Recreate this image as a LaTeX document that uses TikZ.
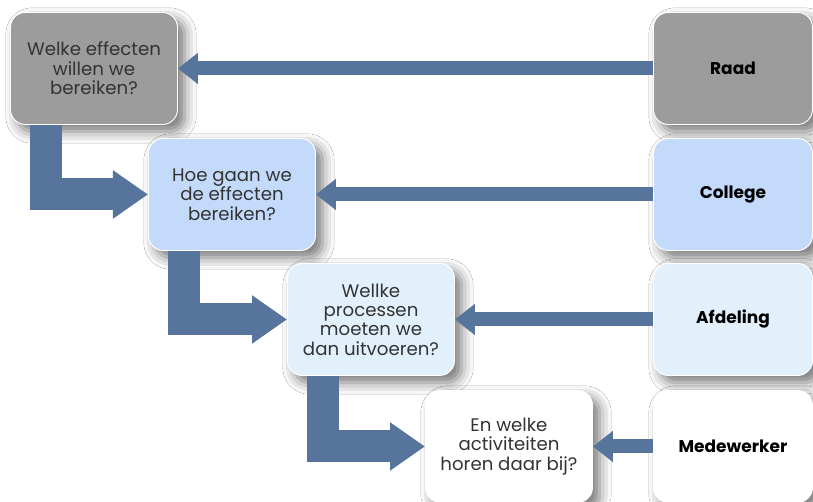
\documentclass[tikz,border=0pt]{standalone}
\usepackage{fontspec}
\setmainfont{Poppins}
\usepackage{tikz}
\usetikzlibrary{arrows.meta, shadows.blur}
\definecolor{graybox}{HTML}{9C9C9C}
\definecolor{bluebox}{HTML}{C3DAFA}
\definecolor{paleblue}{HTML}{E2F0FB}
\definecolor{steel}{HTML}{56749C}
\definecolor{textgray}{HTML}{333333}

\begin{document}
\begin{tikzpicture}[x=0.03cm, y=-0.03cm]
    \tikzstyle{box}=[draw=white, thick, rounded corners=0.45cm, minimum width=5.01cm, minimum height=3.36cm, inner sep=0pt, anchor=north west, align=center, font=\fontsize{15.5}{16.5}\selectfont, text=textgray, blur shadow={shadow xshift=6pt, shadow yshift=-6pt, shadow blur radius=10pt, shadow opacity=55}];
    \tikzstyle{level}=[box, minimum width=4.77cm, font=\fontsize{14.5}{16}\selectfont\bfseries, text=black];
    \tikzstyle{hor}=[draw=steel, line width=0.42cm, -{Triangle[length=0.6cm, width=0.9cm]}];
    \tikzstyle{bent}=[draw=steel, line width=0.96cm, line join=miter, -{Triangle[length=1.05cm, width=1.38cm]}];

    \useasboundingbox[fill=white] (0,0) rectangle (813,501);

    \node[box, fill=graybox] (q1) at (10,12) {Welke effecten\\willen we\\bereiken?};
    \node[box, fill=bluebox] (q2) at (148,138) {Hoe gaan we\\de effecten\\bereiken?};
    \node[box, fill=paleblue] (q3) at (287,263) {Wellke\\processen\\moeten we\\dan uitvoeren?};
    \node[box, fill=white] (q4) at (425,390) {En welke\\activiteiten\\horen daar bij?};

    \node[level, fill=graybox] (raad) at (653,12) {Raad};
    \node[level, fill=bluebox] (college) at (653,138) {College};
    \node[level, fill=paleblue] (afdeling) at (653,263) {Afdeling};
    \node[level, fill=white] (medewerker) at (653,390) {Medewerker};

    \foreach \a/\b in {raad/q1, college/q2, afdeling/q3, medewerker/q4} {
        \draw[hor] (\a.west) -- (\b.east);
    }
    \foreach \a/\b in {q1/q2, q2/q3, q3/q4} {
        \draw[bent] ([xshift=1.08cm]\a.south west) |- (\b.west);
    }
\end{tikzpicture}
\end{document}
